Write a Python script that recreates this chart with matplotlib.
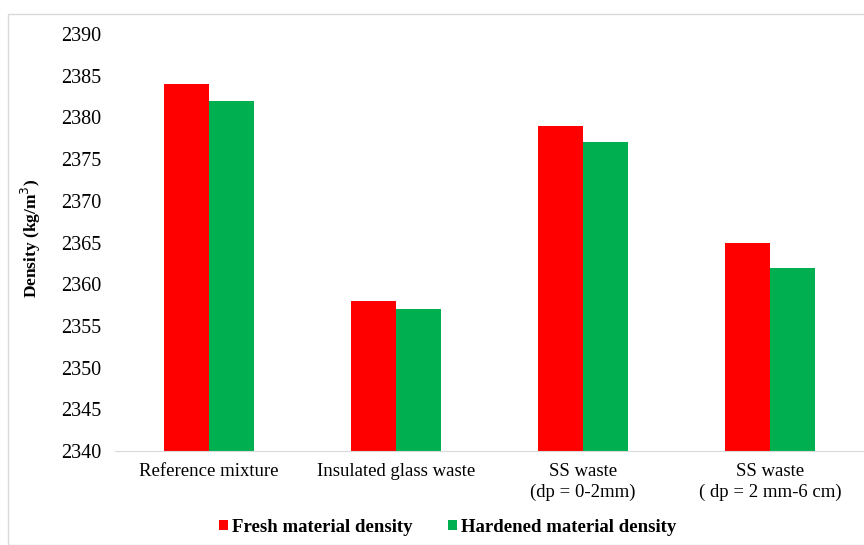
import numpy as np
import matplotlib.pyplot as plt
from matplotlib.patches import Rectangle

plt.rcParams['font.family'] = ['Liberation Serif', 'DejaVu Serif']

# Mixture categories and measured densities (kg/m3)
categories = ['Reference mixture', 'Insulated glass waste',
              'SS waste\n(dp = 0-2mm)', 'SS waste\n( dp = 2 mm-6 cm)']
fresh = [2384, 2358, 2379, 2365]
hardened = [2382, 2357, 2377, 2362]

fig = plt.figure(figsize=(8.64, 5.45), dpi=100)
ax = fig.add_axes([115 / 864, 1 - 451 / 545, 1 - 115 / 864, (451 - 34) / 545])

# light frame around the chart area
fig.patches.append(Rectangle((8 / 864, 0), 1, 1 - 14 / 545, transform=fig.transFigure,
                             fill=False, edgecolor='#d9d9d9', linewidth=1.0))

x = np.arange(len(categories))
w = 0.24
ax.bar(x - w / 2, fresh, w, color='#ff0000', label='Fresh material density')
ax.bar(x + w / 2, hardened, w, color='#00b050', label='Hardened material density')

ax.set_xlim(-0.5, len(categories) - 0.5)
ax.set_ylim(2340, 2390)
ax.set_yticks(np.arange(2340, 2391, 5))
ax.set_xticks(x)
ax.set_xticklabels(categories, fontsize=13.5, linespacing=1.25)
ax.tick_params(axis='y', labelsize=14.5, length=0, pad=10)
ax.tick_params(axis='x', length=0, pad=9)

for s in ['top', 'right', 'left']:
    ax.spines[s].set_visible(False)
ax.spines['bottom'].set_color('#d9d9d9')

ax.set_ylabel('Density (kg/m$^3$)', fontsize=12.5, fontweight='bold')
ax.yaxis.set_label_coords(-0.096, 0.51)

fig.legend(loc='center', bbox_to_anchor=(0.518, 1 - 527 / 545), ncol=2, frameon=False,
           prop={'weight': 'bold', 'size': 13.5}, handlelength=0.5, handleheight=0.5,
           handletextpad=0.2, columnspacing=1.9)

fig.savefig('out.png', dpi=100)
